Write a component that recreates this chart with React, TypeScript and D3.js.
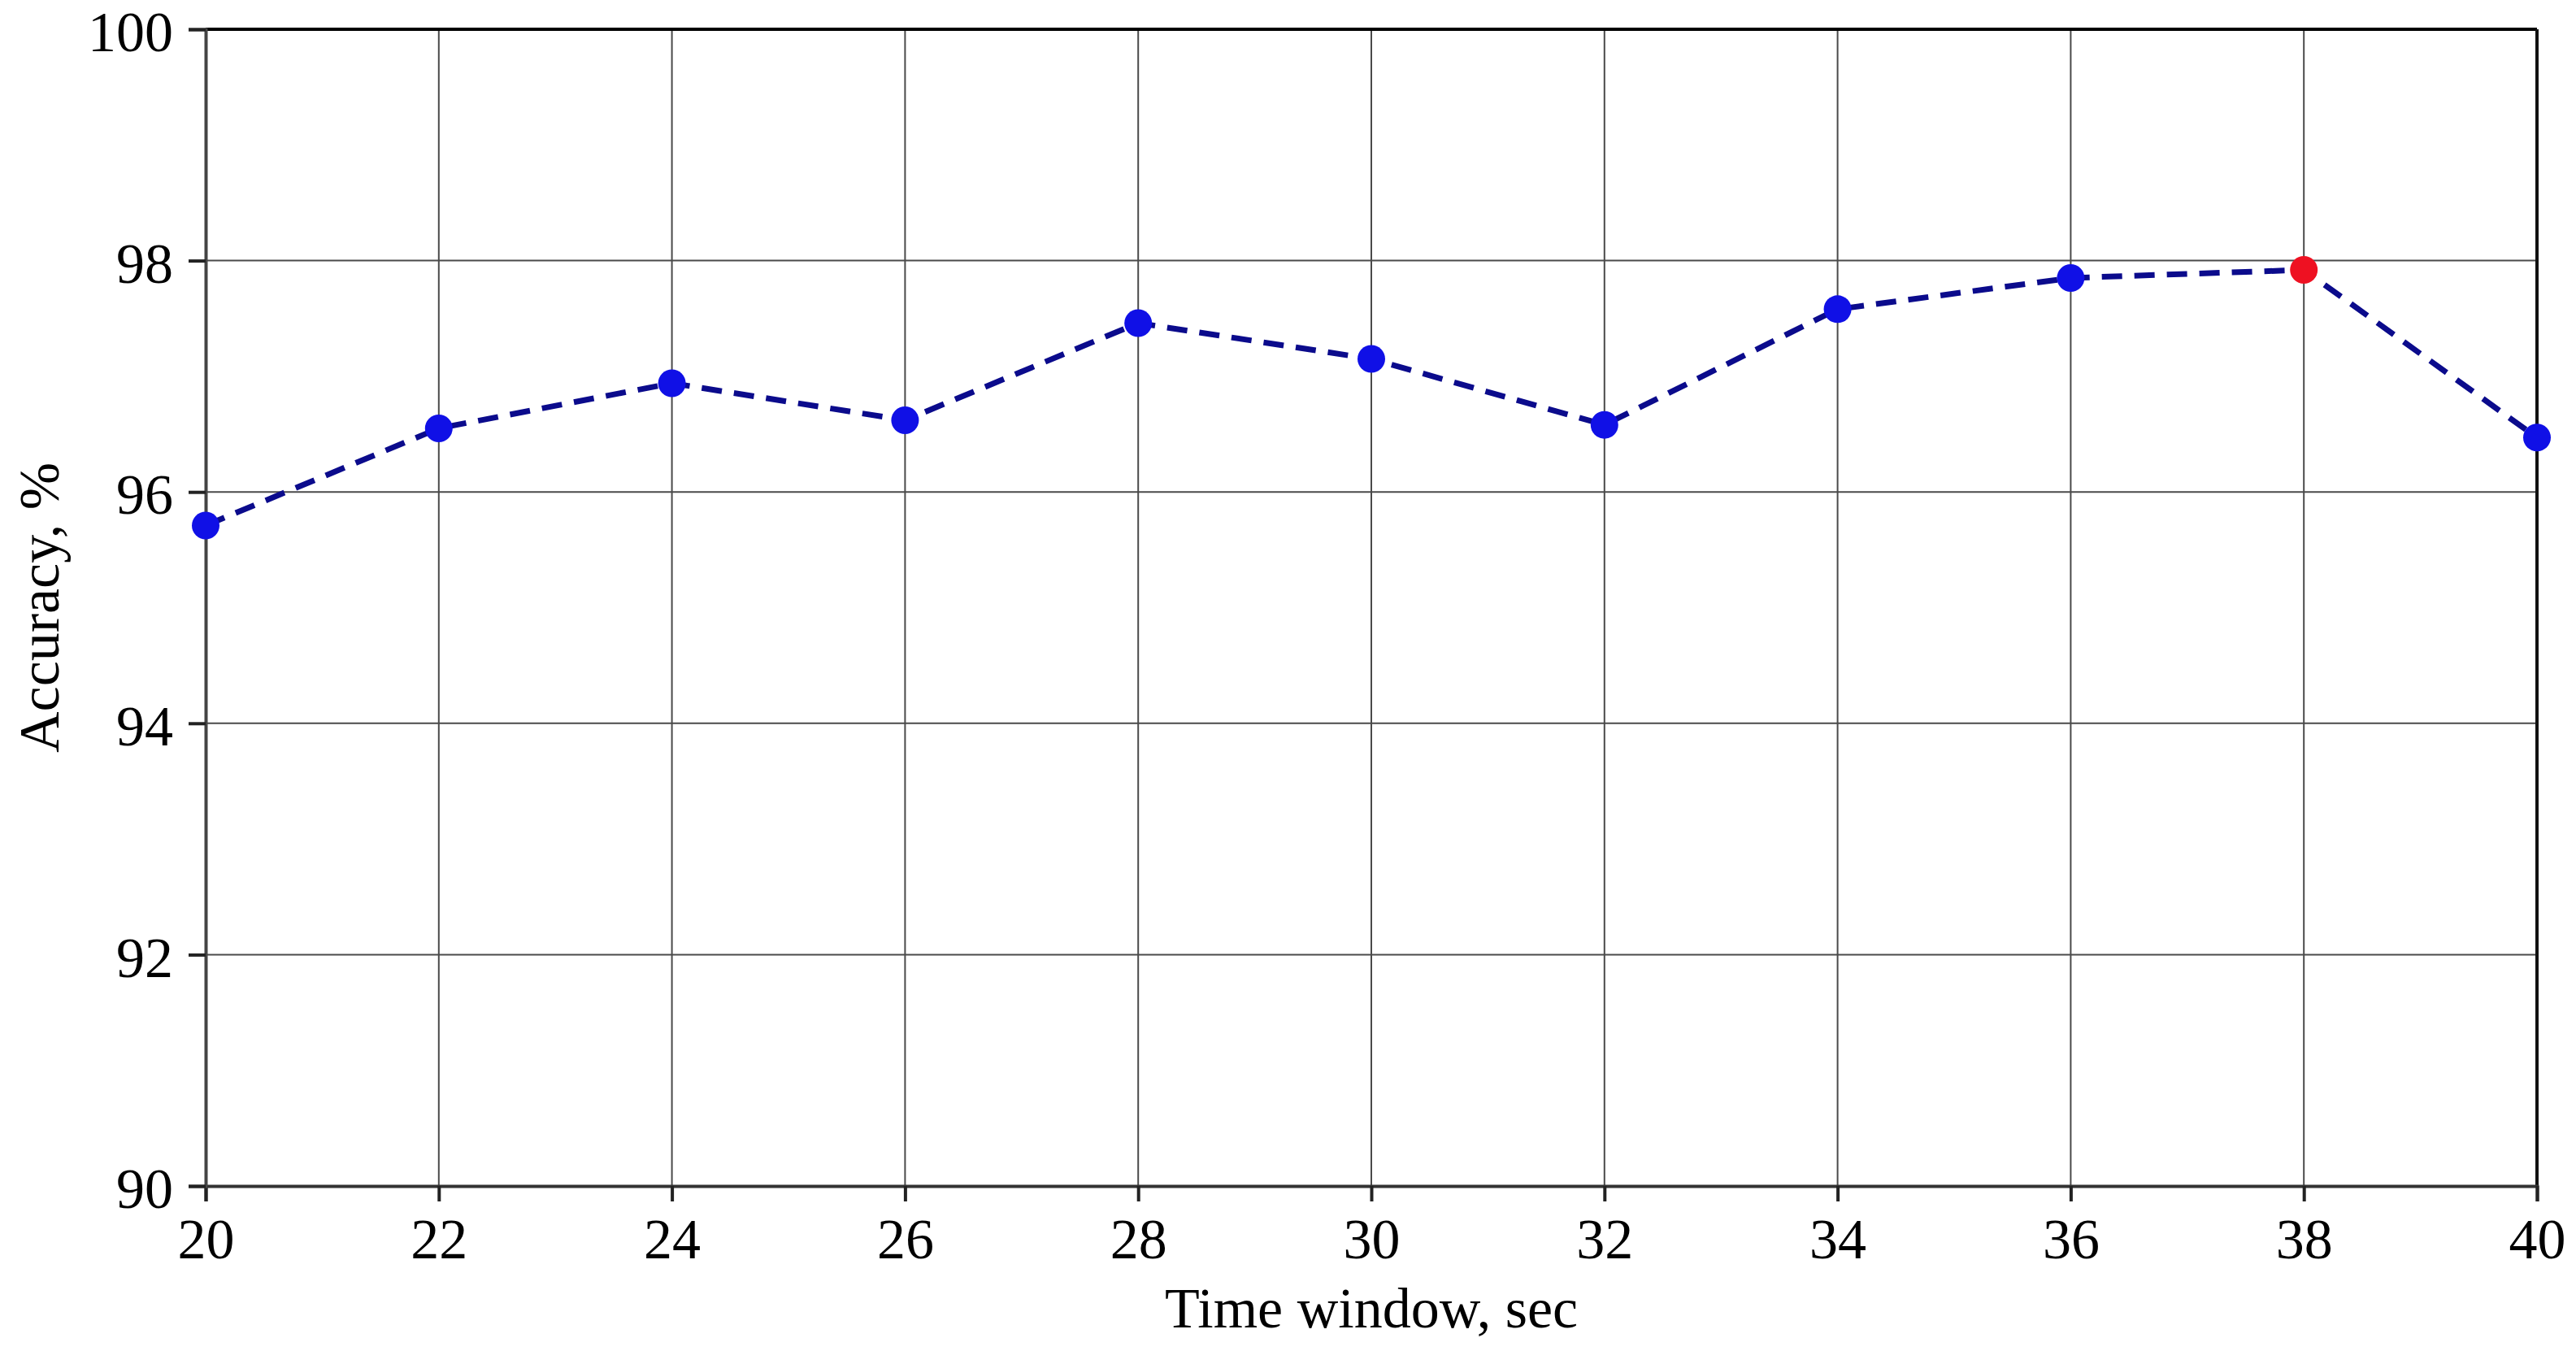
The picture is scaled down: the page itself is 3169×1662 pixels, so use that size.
import React, { useRef, useEffect } from "react";
import * as d3 from "d3";

// time window (sec) and accuracy (%)
const timeWindows = [20, 22, 24, 26, 28, 30, 32, 34, 36, 38, 40];
const accuracy = [95.71, 96.55, 96.94, 96.62, 97.46, 97.15, 96.58, 97.58, 97.85, 97.92, 96.47];
const bestIndex = 9; // highlighted in red
const xTicks = [20, 22, 24, 26, 28, 30, 32, 34, 36, 38, 40];
const yTicks = [90, 92, 94, 96, 98, 100];

const W = 3169;
const H = 1662;
const FONT = "'Liberation Serif', 'Times New Roman', serif";

const App = () => {
  const svgRef = useRef(null);

  useEffect(() => {
    const margin = { top: 36, right: 48, bottom: 203, left: 253 };
    const width = W - margin.left - margin.right;
    const height = H - margin.top - margin.bottom;

    const svg = d3.select(svgRef.current).attr("width", W).attr("height", H);
    svg.selectAll("*").remove();

    svg.append("rect").attr("width", W).attr("height", H).attr("fill", "#fff");

    const g = svg.append("g").attr("transform", `translate(${margin.left},${margin.top})`);

    const x = d3.scaleLinear().domain([20, 40]).range([0, width]);
    const y = d3.scaleLinear().domain([90, 100]).range([height, 0]);

    // grid
    g.append("g")
      .selectAll("line")
      .data(xTicks)
      .enter()
      .append("line")
      .attr("x1", (d) => x(d))
      .attr("x2", (d) => x(d))
      .attr("y1", 0)
      .attr("y2", height)
      .attr("stroke", "#4a4a4a")
      .attr("stroke-width", 2);

    g.append("g")
      .selectAll("line")
      .data(yTicks)
      .enter()
      .append("line")
      .attr("x1", 0)
      .attr("x2", width)
      .attr("y1", (d) => y(d))
      .attr("y2", (d) => y(d))
      .attr("stroke", "#4a4a4a")
      .attr("stroke-width", 2);

    // frame: top and right in black
    g.append("line").attr("x1", 0).attr("x2", width).attr("y1", 0).attr("y2", 0)
      .attr("stroke", "#000").attr("stroke-width", 4);
    g.append("line").attr("x1", width).attr("x2", width).attr("y1", 0).attr("y2", height)
      .attr("stroke", "#111").attr("stroke-width", 4);

    // axes
    const xAxis = g.append("g")
      .attr("transform", `translate(0,${height})`)
      .call(d3.axisBottom(x).tickValues(xTicks).tickSize(19).tickPadding(20).tickFormat(d3.format("d")));
    xAxis.select(".domain").attr("stroke", "#333").attr("stroke-width", 4);
    xAxis.selectAll(".tick line").attr("stroke", "#222").attr("stroke-width", 4);
    xAxis.selectAll("text")
      .attr("fill", "#000")
      .style("font-family", FONT)
      .style("font-size", "70px");

    const yAxis = g.append("g")
      .call(d3.axisLeft(y).tickValues(yTicks).tickSize(21).tickPadding(19).tickFormat(d3.format("d")));
    yAxis.select(".domain").attr("stroke", "#444").attr("stroke-width", 4);
    yAxis.selectAll(".tick line").attr("stroke", "#222").attr("stroke-width", 4);
    yAxis.selectAll("text")
      .attr("fill", "#000")
      .attr("dy", "0.38em")
      .style("font-family", FONT)
      .style("font-size", "70px");

    // dashed line
    const pts = timeWindows.map((t, i) => ({ t, a: accuracy[i], i }));
    const line = d3.line().x((d) => x(d.t)).y((d) => y(d.a));
    g.append("path")
      .datum(pts)
      .attr("d", line)
      .attr("fill", "none")
      .attr("stroke", "#0b0b8c")
      .attr("stroke-width", 7)
      .attr("stroke-dasharray", "25 15");

    // markers
    g.selectAll(".pt")
      .data(pts)
      .enter()
      .append("circle")
      .attr("class", "pt")
      .attr("cx", (d) => x(d.t))
      .attr("cy", (d) => y(d.a))
      .attr("r", 17)
      .attr("fill", (d) => (d.i === bestIndex ? "#ee1122" : "#1010e6"));

    // axis titles
    svg.append("text")
      .attr("x", margin.left + width / 2)
      .attr("y", 1633)
      .attr("text-anchor", "middle")
      .style("font-family", FONT)
      .style("font-size", "70px")
      .text("Time window, sec");

    svg.append("text")
      .attr("transform", `translate(72,${margin.top + height / 2}) rotate(-90)`)
      .attr("text-anchor", "middle")
      .style("font-family", FONT)
      .style("font-size", "70px")
      .text("Accuracy, %");
  }, []);

  return (
    <div style={{ position: "absolute", left: 0, top: 0 }}>
      <svg ref={svgRef} style={{ display: "block" }}></svg>
    </div>
  );
};

export default App;
